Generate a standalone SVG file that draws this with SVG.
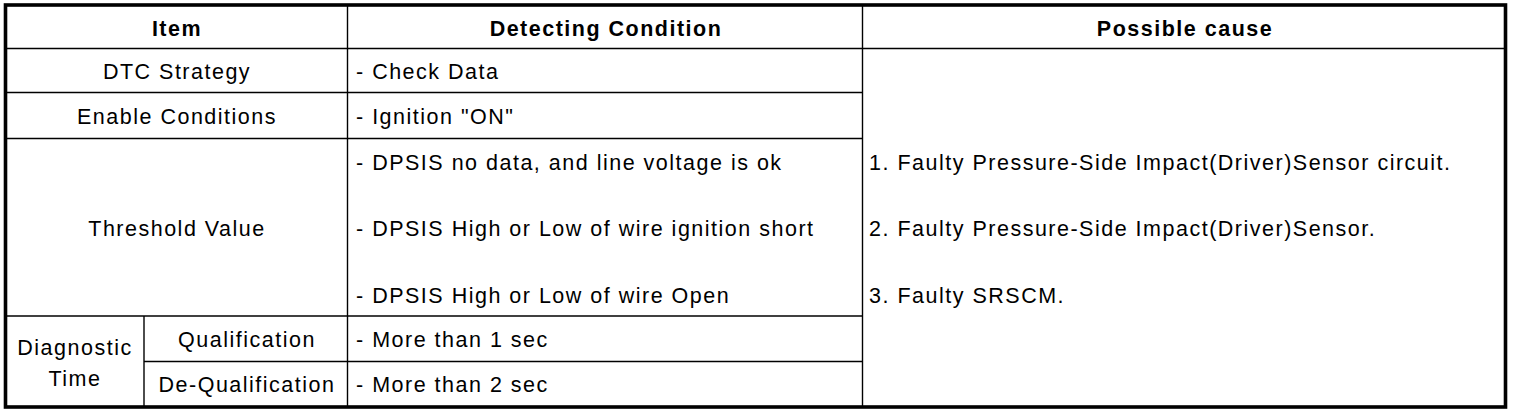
<svg xmlns="http://www.w3.org/2000/svg" width="1520" height="414" viewBox="0 0 1520 414">
<style>
text{font-family:"Liberation Sans",Arial,sans-serif;font-size:21.5px;letter-spacing:1.5px;fill:#000}
.h{font-weight:bold}
.c{text-anchor:middle}
.ln{stroke:#000;stroke-width:1.4;fill:none}
.bd{stroke:#000;stroke-width:3.6;fill:none}
</style>
<rect width="1520" height="414" fill="#fff"/>
<g id="grid">
<line class="ln" x1="5" y1="48.5" x2="1505" y2="48.5"/>
<line class="ln" x1="5" y1="92.5" x2="862.5" y2="92.5"/>
<line class="ln" x1="5" y1="138.5" x2="862.5" y2="138.5"/>
<line class="ln" x1="5" y1="316" x2="862.5" y2="316"/>
<line class="ln" x1="144" y1="361.5" x2="862.5" y2="361.5"/>
<line class="ln" x1="144" y1="316" x2="144" y2="407"/>
<line class="ln" x1="347.5" y1="5" x2="347.5" y2="407"/>
<line class="ln" x1="862.5" y1="5" x2="862.5" y2="407"/>
<rect class="bd" x="5.5" y="5" width="1500" height="402"/>
</g>
<g id="header">
<text class="h c" x="177" y="36">Item</text>
<text class="h c" x="606" y="36">Detecting Condition</text>
<text class="h c" x="1185" y="36">Possible cause</text>
</g>
<g id="row-dtc">
<text class="c" x="177" y="79">DTC Strategy</text>
<text x="356" y="79">- Check Data</text>
</g>
<g id="row-enable">
<text class="c" x="177" y="124">Enable Conditions</text>
<text x="356" y="124">- Ignition "ON"</text>
</g>
<g id="row-threshold">
<text class="c" x="177" y="236">Threshold Value</text>
<text x="356" y="170">- DPSIS no data, and line voltage is ok</text>
<text x="356" y="236">- DPSIS High or Low of wire ignition short</text>
<text x="356" y="303">- DPSIS High or Low of wire Open</text>
</g>
<g id="row-diag">
<text class="c" x="75" y="355">Diagnostic</text>
<text class="c" x="75" y="386">Time</text>
<text class="c" x="247" y="347">Qualification</text>
<text class="c" x="247" y="392">De-Qualification</text>
<text x="356" y="347">- More than 1 sec</text>
<text x="356" y="392">- More than 2 sec</text>
</g>
<g id="causes">
<text x="869" y="170">1. Faulty Pressure-Side Impact(Driver)Sensor circuit.</text>
<text x="869" y="236">2. Faulty Pressure-Side Impact(Driver)Sensor.</text>
<text x="869" y="303">3. Faulty SRSCM.</text>
</g>
</svg>
